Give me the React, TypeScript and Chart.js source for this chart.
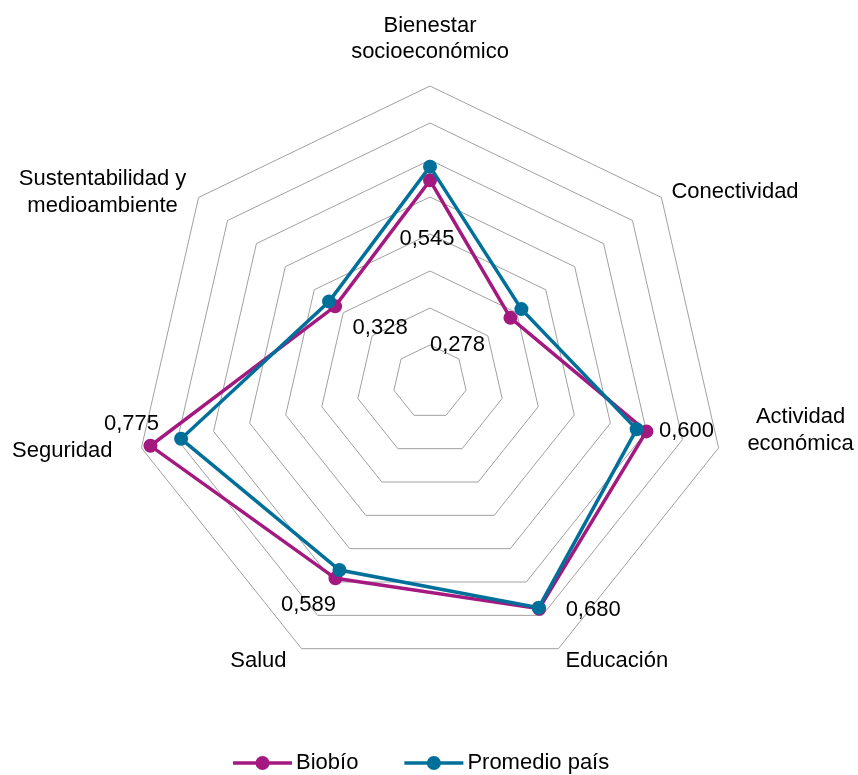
import { useEffect, useRef } from "react";
import { Chart, registerables } from "chart.js";

Chart.register(...registerables);

// Dimensions of the index (clockwise from the top)
const categories: string[][] = [
  ["Bienestar", "socioeconómico"],
  ["Conectividad"],
  ["Actividad", "económica"],
  ["Educación"],
  ["Salud"],
  ["Seguridad"],
  ["Sustentabilidad y", "medioambiente"],
];

const seriesNames = ["Biobío", "Promedio país"];
const biobio = [0.545, 0.278, 0.6, 0.68, 0.589, 0.775, 0.328];
const promedioPais = [0.582, 0.316, 0.573, 0.677, 0.564, 0.69, 0.349];

const scaleMin = 0;
const scaleMax = 0.8;
const scaleStep = 0.1;

// Styling
const FONT = '"Liberation Sans", Arial, Helvetica, sans-serif';
const FONT_SIZE = 22;
const TEXT_COLOR = "#000000";
const GRID_COLOR = "#A0A0A0";
const SERIES_COLORS = ["#A3197F", "#00709A"];

// Placement of the axis captions relative to each polygon vertex
const captionLayout = [
  { dx: 0, dy: -54, align: "center", lh: 26 },
  { dx: 10, dy: 1, align: "left", lh: 26 },
  { dx: 82, dy: -25, align: "center", lh: 27 },
  { dx: 7, dy: 18, align: "left", lh: 26 },
  { dx: -15, dy: 18, align: "right", lh: 26 },
  { dx: -29, dy: 9, align: "right", lh: 26 },
  { dx: -96, dy: -12, align: "center", lh: 27 },
];

// Placement of the value labels relative to each Biobío point
const valueLabelOffsets: [number, number][] = [
  [-3, 59],
  [-53, 27],
  [40, 0],
  [54, 1],
  [-27, 27],
  [-19, -22],
  [45, 22],
];

const formatValue = (v: number) => v.toFixed(3).replace(".", ",");

const overlayPlugin = {
  id: "radarOverlay",
  afterDatasetsDraw(chart: any) {
    const ctx: CanvasRenderingContext2D = chart.ctx;
    const scale = chart.scales.r;
    ctx.save();
    ctx.fillStyle = TEXT_COLOR;
    ctx.font = `${FONT_SIZE}px ${FONT}`;

    // Axis captions
    categories.forEach((lines, i) => {
      const v = scale.getPointPosition(i, scale.drawingArea);
      const lay = captionLayout[i];
      const widths = lines.map((l) => ctx.measureText(l).width);
      const maxW = Math.max(...widths);
      const ax = v.x + lay.dx;
      const ay = v.y + lay.dy;
      ctx.textBaseline = "alphabetic";
      ctx.textAlign = "center";
      lines.forEach((line, k) => {
        let cx = ax;
        if (lay.align === "left") cx = ax + maxW / 2;
        else if (lay.align === "right") cx = ax - maxW / 2;
        ctx.fillText(line, cx, ay + k * lay.lh);
      });
    });

    // Value labels for Biobío
    const meta = chart.getDatasetMeta(0);
    ctx.textAlign = "center";
    ctx.textBaseline = "middle";
    meta.data.forEach((pt: any, i: number) => {
      const [dx, dy] = valueLabelOffsets[i];
      ctx.fillText(formatValue(biobio[i]), pt.x + dx, pt.y + dy);
    });

    // Legend
    const legendY = 763;
    const lineLen = 59;
    let x = 233;
    chart.data.datasets.forEach((ds: any, i: number) => {
      const color = SERIES_COLORS[i];
      ctx.strokeStyle = color;
      ctx.lineWidth = 3.5;
      ctx.beginPath();
      ctx.moveTo(x, legendY);
      ctx.lineTo(x + lineLen, legendY);
      ctx.stroke();
      ctx.fillStyle = color;
      ctx.beginPath();
      ctx.arc(x + lineLen / 2, legendY, 7, 0, Math.PI * 2);
      ctx.fill();
      ctx.fillStyle = TEXT_COLOR;
      ctx.textAlign = "left";
      ctx.textBaseline = "middle";
      ctx.fillText(ds.label, x + lineLen + 4, legendY);
      x += lineLen + 4 + ctx.measureText(ds.label).width + 46;
    });
    ctx.restore();
  },
};

export default function App() {
  const canvasRef = useRef<HTMLCanvasElement | null>(null);

  useEffect(() => {
    if (!canvasRef.current) return;
    const makeSeries = (label: string, data: number[], color: string, order: number) => ({
      label,
      data,
      order,
      borderColor: color,
      backgroundColor: color,
      borderWidth: 3.5,
      fill: false,
      pointRadius: 6,
      pointBorderWidth: 2,
      pointBorderColor: color,
      pointBackgroundColor: color,
      tension: 0,
    });

    const chart = new Chart(canvasRef.current, {
      type: "radar",
      data: {
        labels: categories,
        datasets: [
          makeSeries(seriesNames[0], biobio, SERIES_COLORS[0], 1),
          makeSeries(seriesNames[1], promedioPais, SERIES_COLORS[1], 0),
        ],
      },
      options: {
        animation: false,
        responsive: false,
        layout: { padding: { left: 134, right: 132, top: 86, bottom: 97 } },
        plugins: {
          legend: { display: false },
          tooltip: { enabled: false },
        },
        scales: {
          r: {
            min: scaleMin,
            max: scaleMax,
            ticks: { display: false, stepSize: scaleStep },
            grid: { color: GRID_COLOR, lineWidth: 1, circular: false },
            angleLines: { display: false },
            pointLabels: { display: false },
          },
        },
      },
      plugins: [overlayPlugin],
    });
    return () => chart.destroy();
  }, []);

  return (
    <div style={{ position: "fixed", left: 0, top: 0, width: 858, height: 775, background: "#fff" }}>
      <canvas ref={canvasRef} width={858} height={775} style={{ display: "block" }} />
    </div>
  );
}
